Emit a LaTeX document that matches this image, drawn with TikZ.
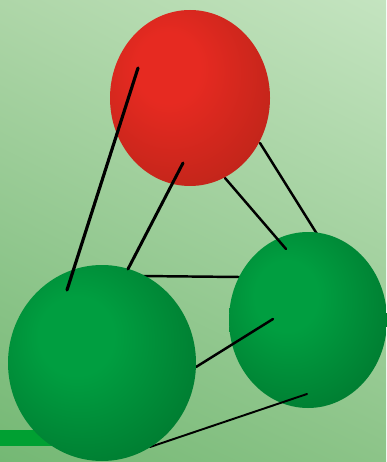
\documentclass[tikz,border=0pt]{standalone}
\usepackage{tikz}
\usetikzlibrary{calc,shadings}

\definecolor{redlight}{RGB}{230,42,33}
\definecolor{reddark}{RGB}{172,34,22}
\definecolor{greenlight}{RGB}{0,158,64}
\definecolor{greendark}{RGB}{0,104,40}
\definecolor{barcol}{RGB}{0,160,50}
\definecolor{bgtl}{RGB}{174,214,168}
\definecolor{bgtr}{RGB}{196,228,192}
\definecolor{bgbl}{RGB}{116,184,116}
\definecolor{bgbr}{RGB}{140,196,136}

\pgfdeclareradialshading{redball}{\pgfpoint{-8bp}{10bp}}{%
  color(0bp)=(redlight); color(10bp)=(redlight);
  color(46bp)=(reddark); color(70bp)=(reddark)}
\pgfdeclareradialshading{greenball}{\pgfpoint{-8bp}{8bp}}{%
  color(0bp)=(greenlight); color(10bp)=(greenlight);
  color(46bp)=(greendark); color(70bp)=(greendark)}

\tikzset{stick/.style={line width=1.4pt,line cap=round}}

\begin{document}
\begin{tikzpicture}[x=0.02cm,y=-0.02cm]
  \useasboundingbox (0,0) rectangle (386,462);
  \shade[upper left=bgtl,upper right=bgtr,lower left=bgbl,lower right=bgbr]
    (0,0) rectangle (386,462);
  \fill[barcol] (0,430) rectangle (60,446);

  % stick ends
  \coordinate (r1) at (138,68);
  \coordinate (r2) at (183,163);
  \coordinate (r3) at (225,178);
  \coordinate (r4) at (260,143);
  \coordinate (a1) at (67,290);
  \coordinate (a2) at (128,269);
  \coordinate (a3) at (140,276);
  \coordinate (a4) at (196,367);
  \coordinate (a5) at (150,447);
  \coordinate (b1) at (286,249);
  \coordinate (b2) at (317,234);
  \coordinate (b3) at (240,277);
  \coordinate (b4) at (273,319);
  \coordinate (b5) at (307,394);

  % back sticks
  \draw[stick] (r4) -- (b2);
  \draw[stick] (a3) -- (b3);

  \shade[shading=greenball] (308,320) ellipse (79 and 88);
  \draw[stick] (r3) -- (b1);
  \draw[stick] (a4) -- (b4);
  \draw[stick,line width=1.1pt] (a5) -- (b5);

  \shade[shading=redball] (190,98) ellipse (80 and 88);
  \shade[shading=greenball] (102,363) ellipse (94 and 98);

  % front sticks
  \draw[stick,line width=1.8pt] (r1) -- (a1);
  \draw[stick,line width=1.7pt] (r2) -- (a2);
\end{tikzpicture}
\end{document}
